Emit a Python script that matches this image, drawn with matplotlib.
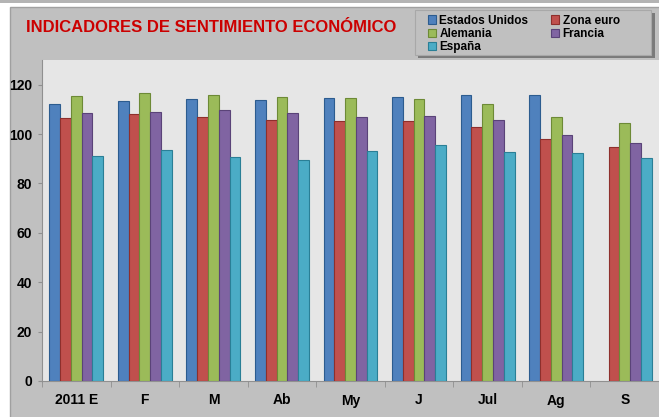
import matplotlib
matplotlib.use("Agg")
import matplotlib.pyplot as plt
import numpy as np
from matplotlib.patches import Rectangle
from matplotlib import font_manager

meses = ["2011 E", "F", "M", "Ab", "My", "J", "Jul", "Ag", "S"]
estados_unidos = [112.3, 113.3, 114.1, 113.7, 114.6, 115.0, 115.7, 116.0, np.nan]
zona_euro = [106.4, 108.0, 106.8, 105.9, 105.2, 105.2, 102.8, 98.1, 94.7]
alemania = [115.4, 116.6, 115.7, 115.0, 114.6, 114.2, 112.2, 106.8, 104.5]
francia = [108.6, 109.0, 109.7, 108.6, 106.8, 107.2, 105.5, 99.5, 96.2]
espana = [91.3, 93.7, 90.7, 89.7, 93.1, 95.4, 92.7, 92.3, 90.5]

series = [
    ("Estados Unidos", estados_unidos, "#4F81BD", "#2C5C8F"),
    ("Zona euro", zona_euro, "#C0504D", "#8E2F2C"),
    ("Alemania", alemania, "#9BBB59", "#6D8A36"),
    ("Francia", francia, "#8064A2", "#5A4378"),
    ("España", espana, "#4BACC6", "#2A7F96"),
]

nombres = {f.name for f in font_manager.fontManager.ttflist}
fuente = 'Liberation Sans Narrow' if 'Liberation Sans Narrow' in nombres else 'Liberation Sans'
plt.rcParams['font.family'] = [fuente, 'DejaVu Sans']

W, H = 659, 417
fig = plt.figure(figsize=(6.59, 4.17), dpi=100)
fig.patch.set_facecolor("white")

def caja(x0, y0, x1, y1, **kw):
    # rectangulo en pixeles (origen arriba a la izquierda)
    fig.patches.append(Rectangle((x0/W, 1 - y1/H), (x1 - x0)/W, (y1 - y0)/H,
                                 transform=fig.transFigure, **kw))

# marco gris tipo Excel
caja(0, 0, W, 2.5, facecolor="#b4b4b4", edgecolor="none", zorder=-10)
caja(9.5, 7.5, W + 5, H + 5, facecolor="#c0c0c0", edgecolor="#a0a0a0", lw=1, zorder=-10)

# fondo de la leyenda con sombra
caja(418, 13, 655, 58, facecolor="#7a7a7a", edgecolor="none", zorder=5)
caja(415, 10, 651, 55, facecolor="#c0c0c0", edgecolor="#a8a8a8", lw=0.8, zorder=6)

ax = fig.add_axes([42/W, 1 - 381/H, 1 - 42/W, (381 - 60)/H])
ax.set_facecolor("#e6e6e6")

x = np.arange(len(meses))
w = 0.157
handles = {}
for i, (nombre, vals, col, borde) in enumerate(series):
    b = ax.bar(x + (i - 2) * w, vals, w, color=col, edgecolor=borde, linewidth=0.8,
               label=nombre, zorder=3)
    handles[nombre] = b

ax.set_xlim(-0.5, len(meses) - 0.5)
ax.set_ylim(0, 130)
ax.set_yticks(range(0, 121, 20))
ax.set_xticks(x)
ax.set_xticklabels(meses, fontsize=10, fontweight="bold")
ax.set_xticks(np.arange(-0.5, len(meses), 1), minor=True)
ax.tick_params(axis="x", which="major", length=0, pad=9)
ax.tick_params(axis="x", which="minor", length=4, color="#909090", direction="out")
ax.tick_params(axis="y", length=3, color="#909090", labelsize=10, pad=4)
for lab in ax.get_yticklabels():
    lab.set_fontweight("bold")

for s in ["top", "right"]:
    ax.spines[s].set_visible(False)
ax.spines["left"].set_color("#909090")
ax.spines["bottom"].set_color("#909090")

fig.text(26/W, 1 - 27/H, "INDICADORES DE SENTIMIENTO ECONÓMICO", color="#CC0000",
         fontsize=14 if fuente != 'Liberation Sans' else 12, fontweight="bold",
         va="center", ha="left")

orden = ["Estados Unidos", "Alemania", "España", "Zona euro", "Francia"]
leg = fig.legend([handles[n] for n in orden], orden, ncol=2,
                 loc="upper left", bbox_to_anchor=(424/W, 1 - 11/H),
                 prop={"weight": "bold", "size": 8.5},
                 frameon=False,
                 handlelength=0.7, handleheight=0.7, handletextpad=0.3,
                 columnspacing=1.9, labelspacing=0.12, borderpad=0.3,
                 borderaxespad=0)
leg.set_zorder(7)

fig.savefig("out.png", dpi=100, facecolor=fig.get_facecolor())
